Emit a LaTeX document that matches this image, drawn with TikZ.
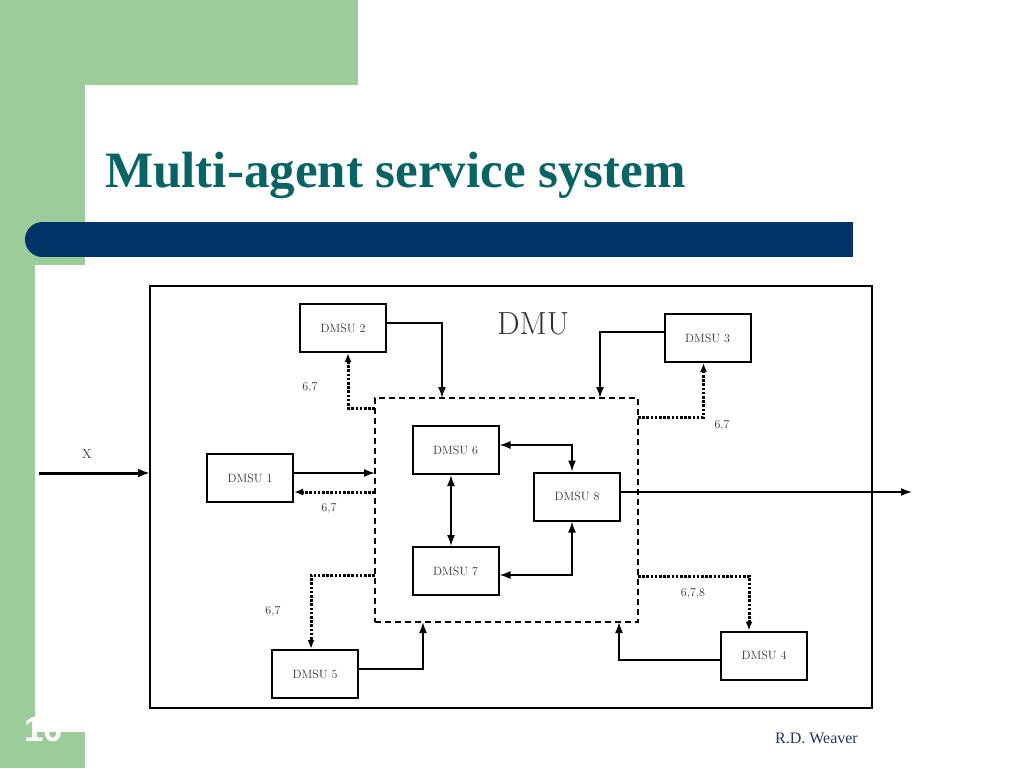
\documentclass[tikz,border=0pt]{standalone}
\usepackage{fontspec}
\newfontfamily\titlefont{Liberation Serif}
\newfontfamily\numfont{Liberation Sans}
\usetikzlibrary{arrows.meta}
\definecolor{bggreen}{RGB}{155,204,153}
\definecolor{barblue}{RGB}{0,51,102}
\definecolor{titleteal}{RGB}{8,100,100}
\definecolor{footblue}{RGB}{35,55,90}
\definecolor{boxtext}{RGB}{50,50,50}
\begin{document}
\begin{tikzpicture}[x=1pt,y=-1pt,
  unit/.style={draw,line width=2pt,minimum width=86pt,minimum height=48pt,inner sep=0pt,
    font=\fontsize{12}{13}\selectfont,text=boxtext},
  conn/.style={line width=1.7pt,-{Latex[length=11pt,width=8pt]}},
  biconn/.style={line width=1.7pt,{Latex[length=11pt,width=8pt]}-{Latex[length=11pt,width=8pt]}},
  dotc/.style={line width=3pt,dash pattern=on 2.6pt off 1.6pt,-{Latex[length=9pt,width=7pt]}},
  lab/.style={font=\fontsize{12}{13}\selectfont,text=boxtext,inner sep=0pt}]
\useasboundingbox (0,0) rectangle (1024,768);
% background
\fill[white] (0,0) rectangle (1024,768);
\fill[bggreen] (0,0) rectangle (358,85);
\fill[bggreen] (0,0) rectangle (85,768);
\fill[white] (115,85) rectangle (1024,768);
\fill[white] (85,115) rectangle (1024,768);
\fill[white] (115,115) circle[radius=30pt];
\fill[bggreen] (0,732) rectangle (85,768);
\fill[bggreen] (0,265) rectangle (35,768);
\node[anchor=base,text=white,font=\numfont\bfseries\fontsize{35}{35}\selectfont,inner sep=0pt] (num) at (44,741) {10};
\fill[white] (35,265) rectangle (85,732);
% blue bar
\fill[barblue] (42.5,222) rectangle (853,257);
\fill[barblue] (42.5,239.5) circle[radius=17.5pt];
% title
\node[anchor=base west,inner sep=0pt,text=titleteal,font=\titlefont\bfseries\fontsize{51}{51}\selectfont] (title) at (105,187) {Multi-agent service system};
% footer
\node[anchor=base east,inner sep=0pt,text=footblue,font=\titlefont\fontsize{16}{16}\selectfont] (foot) at (858,743) {R.D. Weaver};
% outer box
\node[draw,line width=2.2pt,minimum width=722pt,minimum height=422pt,inner sep=0pt] (outer) at (511,497) {};
\node[font=\fontsize{32}{32}\selectfont,inner sep=0pt,text=boxtext] (dmu) at (533,324) {DMU};
% dashed box
\node[draw,line width=1.7pt,dash pattern=on 6pt off 4pt,minimum width=263pt,minimum height=224pt,inner sep=0pt] (dash) at (506.5,510) {};
% units
\node[unit] (d2) at (343,328) {DMSU 2};
\node[unit] (d3) at (707.5,338) {DMSU 3};
\node[unit] (d1) at (250,478) {DMSU 1};
\node[unit] (d6) at (455.5,450) {DMSU 6};
\node[unit] (d8) at (577,496.5) {DMSU 8};
\node[unit] (d7) at (455.5,571) {DMSU 7};
\node[unit] (d5) at (315,674) {DMSU 5};
\node[unit] (d4) at (764,655.5) {DMSU 4};
% coordinates on dashed border and free ends
\coordinate (t2) at (442,398);
\coordinate (t3) at (600,398);
\coordinate (c2) at (375,408);
\coordinate (c3) at (638,417);
\coordinate (l1a) at (375,473);
\coordinate (l1b) at (375,492);
\coordinate (c5) at (375,575);
\coordinate (c4) at (638,576);
\coordinate (b5) at (423,622);
\coordinate (b4) at (619,622);
\coordinate (xin) at (39,473);
\coordinate (xout) at (150,473);
\coordinate (out) at (912,492);
% connectors
\draw[conn] ([yshift=5pt]d2.east) -| (t2);
\draw[dotc] (c2) -| ([xshift=5pt]d2.south);
\node[lab] (l2) at (310,388) {6,7};
\draw[conn] ([yshift=6pt]d3.west) -| (t3);
\draw[dotc] (c3) -| ([xshift=-4pt]d3.south);
\node[lab] (l3) at (722,426) {6,7};
\draw[conn] ([yshift=5pt]d1.east) -- (l1a);
\draw[dotc] (l1b) -- ([yshift=-14pt]d1.east);
\node[lab] (l1) at (329,509) {6,7};
\draw[line width=3pt,-{Latex[length=12pt,width=9pt]}] (xin) -- (xout);
\node[font=\fontsize{13}{13}\selectfont,inner sep=0pt,text=boxtext] (xl) at (87,454) {X};
\draw[conn] ([yshift=4.5pt]d8.east) -- (out);
\draw[biconn] ([yshift=5pt]d6.east) -| ([xshift=-5pt]d8.north);
\draw[biconn] ([xshift=-4.5pt]d6.south) -- ([xshift=-4.5pt]d7.north);
\draw[biconn] ([yshift=-4pt]d7.east) -| ([xshift=-5pt]d8.south);
\draw[dotc] (c5) -| ([xshift=-4pt]d5.north);
\node[lab] (l5) at (273,612) {6,7};
\draw[conn] ([yshift=5pt]d5.east) -| (b5);
\draw[dotc] (c4) -| ([xshift=-15pt]d4.north);
\node[lab] (l4) at (693,594) {6,7,8};
\draw[conn] ([yshift=-4.5pt]d4.west) -| (b4);
\end{tikzpicture}
\end{document}
